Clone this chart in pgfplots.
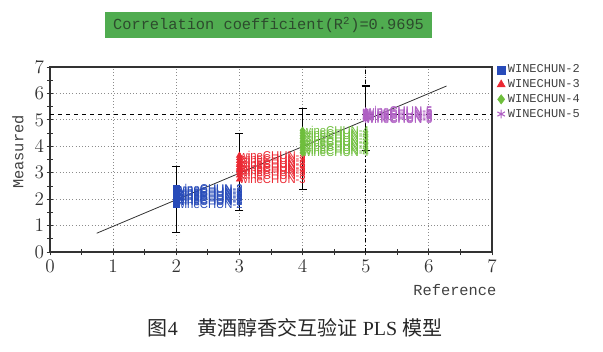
\documentclass[border=0pt]{standalone}
\usepackage{fontspec}
\setmainfont{Liberation Serif}
\setmonofont{Liberation Mono}
\newfontfamily\cjk{Noto Sans CJK SC}
\newfontfamily\lsans{Liberation Sans}
\usepackage{pgfplots}
\pgfplotsset{compat=1.18}
\definecolor{cblue}{RGB}{40,75,185}
\definecolor{cred}{RGB}{235,40,50}
\definecolor{cgreen}{RGB}{110,190,60}
\definecolor{cpurple}{RGB}{175,95,195}
\definecolor{boxgreen}{RGB}{80,172,80}
\definecolor{boxtext}{RGB}{45,75,45}
\definecolor{axisgray}{RGB}{50,50,50}
\begin{document}
\begin{tikzpicture}
\useasboundingbox (0,0) rectangle (452.25pt,264pt);
\node[fill=boxgreen, minimum width=245pt, minimum height=19.5pt, inner sep=0pt,
      font=\ttfamily\fontsize{11.5}{12}\selectfont, text=boxtext]
      at (201.4pt,245.25pt) {Correlation coefficient(R\textsuperscript{2})=0.9695};
\begin{axis}[
  at={(37.5pt,75pt)}, anchor=south west,
  scale only axis, width=331.5pt, height=138.75pt,
  xmin=0, xmax=7, ymin=0, ymax=7,
  xtick={0,...,7}, ytick={0,...,7},
  minor x tick num=1, minor y tick num=1,
  tick pos=left, tick align=center,
  major tick length=5pt, minor tick length=4pt,
  tick style={axisgray, line width=0.6pt},
  axis line style={axisgray, line width=0.8pt},
  grid=major, major grid style={dotted, gray!90, line width=0.7pt},
  tick label style={font=\fontsize{15}{16}\selectfont, text=black!80},
  yticklabel style={xshift=1.5pt},
  xlabel={Reference}, ylabel={Measured},
  label style={font=\ttfamily\fontsize{11.5}{12}\selectfont, text=black!75},
  xlabel style={at={(axis description cs:0.916,-0.205)}, anchor=center},
  ylabel style={at={(axis description cs:-0.0724,0.54)}, anchor=center, rotate=0},
  legend style={at={(1.011,1.027)}, anchor=north west, draw=none, fill=none,
     font=\ttfamily\fontsize{9}{10}\selectfont, text=black!75, row sep=-0.5pt, inner sep=0pt},
  legend cell align=left,
  legend image post style={scale=1.35},
  every node near coord/.append style={anchor=west, inner sep=0pt, font=\lsans\fontsize{8.5}{8.5}\selectfont},
  clip=false,
]
% reference lines
\addplot[forget plot, black, dashed, line width=0.8pt] coordinates {(0,5.2) (7,5.2)};
\addplot[forget plot, black, dash dot, line width=0.7pt] coordinates {(5,0) (5,7)};
% regression line
\addplot[forget plot, black!80, line width=0.6pt] coordinates {(0.74,0.71) (6.28,6.28)};
% error bars
\addplot[forget plot, draw=none, mark=none, black,
  error bars/.cd, y dir=both, y explicit, error bar style={black, line width=0.8pt},
  error mark options={rotate=90, mark size=3pt, line width=0.8pt}]
  coordinates {(2,1.985) +- (0,1.265) (3,3.025) +- (0,1.465) (4,3.905) +- (0,1.535) (5,5.055) +- (0,1.225)};
% series
\addplot[only marks, mark=square*, mark size=2.2pt, cblue, mark options={fill=cblue},
  nodes near coords={wineCHUN-2}, every node near coord/.append style={text=cblue}]
  coordinates {(2,1.80)(2,1.90)(2,1.95)(2,2.00)(2,2.05)(2,2.10)(2,2.15)(2,2.20)(2,2.25)(2,2.30)(2,2.35)(2,2.40)};
\addlegendentry{WINECHUN-2}
\addplot[only marks, mark=triangle*, mark size=2.6pt, cred, mark options={fill=cred},
  nodes near coords={wineCHUN-3}, every node near coord/.append style={text=cred}]
  coordinates {(3,2.75)(3,2.90)(3,3.00)(3,3.10)(3,3.15)(3,3.20)(3,3.30)(3,3.35)(3,3.45)(3,3.55)(3,3.65)};
\addlegendentry{WINECHUN-3}
\addplot[only marks, mark=diamond*, mark size=2.6pt, cgreen, mark options={fill=cgreen},
  nodes near coords={wineCHUN-4}, every node near coord/.append style={text=cgreen}]
  coordinates {(4,3.75)(4,3.85)(4,3.95)(4,4.05)(4,4.15)(4,4.20)(4,4.30)(4,4.40)(4,4.50)(4,4.60)};
\addlegendentry{WINECHUN-4}
\addplot[only marks, mark=asterisk, mark size=2.4pt, cpurple, line width=0.8pt,
  nodes near coords={wineCHUN-5}, every node near coord/.append style={text=cpurple}]
  coordinates {(5,5.00)(5,5.05)(5,5.10)(5,5.15)(5,5.20)(5,5.25)(5,5.30)(5,5.35)};
\addlegendentry{WINECHUN-5}
\end{axis}
\node[font=\fontsize{15}{16}\selectfont, text=black!85] at (221.25pt,18pt)
  {{\cjk 图}4\quad{\cjk 黄酒醇香交互验证} PLS {\cjk 模型}};
\end{tikzpicture}
\end{document}
